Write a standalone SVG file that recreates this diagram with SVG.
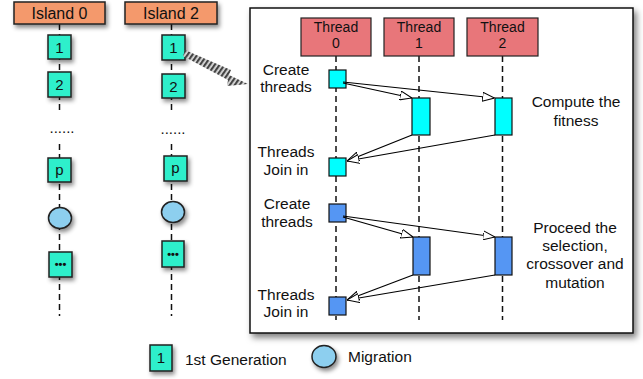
<svg xmlns="http://www.w3.org/2000/svg" width="643" height="379" viewBox="0 0 643 379">
  <defs>
    <filter id="shadow" x="-30%" y="-30%" width="170%" height="170%">
      <feDropShadow dx="2" dy="3" stdDeviation="2" flood-color="#000" flood-opacity="0.45"/>
    </filter>
    <filter id="panelShadow" x="-5%" y="-5%" width="112%" height="112%">
      <feDropShadow dx="3" dy="4" stdDeviation="3" flood-color="#000" flood-opacity="0.5"/>
    </filter>
    <pattern id="hatch" width="4" height="4" patternUnits="userSpaceOnUse" patternTransform="rotate(35)">
      <rect width="4" height="4" fill="#ddd"/>
      <rect width="2.2" height="4" fill="#444"/>
    </pattern>
    <marker id="hollow" viewBox="0 0 12 10" refX="12" refY="5" markerWidth="12" markerHeight="10" markerUnits="userSpaceOnUse" orient="auto">
      <path d="M0,0.5 L12,5 L0,9.5 Z" fill="#fff" stroke="#000" stroke-width="1"/>
    </marker>
    <style>
      .txt { font-family: "Liberation Sans", Arial, sans-serif; fill: #111; }
      .lbl { font-size: 15.5px; text-anchor: middle; }
      .th { font-size: 14px; text-anchor: middle; }
      .hdr { font-size: 16px; text-anchor: middle; }
      .island { fill: #F4996C; stroke: #222; stroke-width: 1.5; }
      .gen { fill: #2EEFCB; stroke: #222; stroke-width: 1.5; }
      .mig { fill: #8DCFEF; stroke: #222; stroke-width: 1.5; }
      .thread { fill: #E8767A; stroke: #222; stroke-width: 1.2; }
      .cyan { fill: #00FFFF; stroke: #111; stroke-width: 1.2; }
      .blue { fill: #5596F3; stroke: #111; stroke-width: 1.2; }
      .life { stroke: #111; stroke-width: 1.5; stroke-dasharray: 6 4; fill: none; }
      .msg { stroke: #000; stroke-width: 1.2; fill: none; marker-end: url(#hollow); }
      .num { font-size: 15px; text-anchor: middle; }
      .more { font-size: 11px; text-anchor: middle; font-weight: bold; }
      .ellip { font-size: 15px; text-anchor: middle; }
    </style>
  </defs>

  <rect width="643" height="379" fill="#fff"/>

  <!-- island timelines -->
  <g id="island-lines">
    <line class="life" x1="59.5" y1="24" x2="59.5" y2="316"/>
    <line class="life" x1="171.5" y1="24" x2="171.5" y2="316"/>
  </g>

  <g id="island0">
    <rect class="island" x="14" y="2" width="91" height="22" filter="url(#shadow)"/>
    <text class="txt hdr" x="59.5" y="19">Island 0</text>
  </g>
  <g id="island2">
    <rect class="island" x="125" y="2" width="92" height="22" filter="url(#shadow)"/>
    <text class="txt hdr" x="171" y="19">Island 2</text>
  </g>

  <!-- island 0 column -->
  <g id="i0-gen1">
    <rect class="gen" x="48" y="35" width="23" height="24" filter="url(#shadow)"/>
    <text class="txt num" x="59.5" y="53">1</text>
  </g>
  <g id="i0-gen2">
    <rect class="gen" x="48" y="72" width="23" height="25" filter="url(#shadow)"/>
    <text class="txt num" x="59.5" y="90">2</text>
  </g>
  <rect x="47" y="113" width="30" height="28" fill="#fff"/>
  <text class="txt ellip" x="62" y="133">......</text>
  <g id="i0-genp">
    <rect class="gen" x="48" y="158" width="23" height="24" filter="url(#shadow)"/>
    <text class="txt num" x="59.5" y="175">p</text>
  </g>
  <g id="i0-mig">
    <ellipse class="mig" cx="60" cy="218" rx="11.5" ry="10.5" filter="url(#shadow)"/>
  </g>
  <g id="i0-genx">
    <rect class="gen" x="49" y="252" width="23" height="25" filter="url(#shadow)"/>
    <text class="txt more" x="60.5" y="268">•••</text>
  </g>

  <!-- island 2 column -->
  <g id="i2-gen1">
    <rect class="gen" x="162" y="35" width="23" height="25" filter="url(#shadow)"/>
    <text class="txt num" x="173.5" y="53">1</text>
  </g>
  <g id="i2-gen2">
    <rect class="gen" x="162" y="74" width="23" height="24" filter="url(#shadow)"/>
    <text class="txt num" x="173.5" y="92">2</text>
  </g>
  <rect x="158" y="114" width="30" height="28" fill="#fff"/>
  <text class="txt ellip" x="173" y="134">......</text>
  <g id="i2-genp">
    <rect class="gen" x="164" y="156" width="23" height="25" filter="url(#shadow)"/>
    <text class="txt num" x="175.5" y="173">p</text>
  </g>
  <g id="i2-mig">
    <ellipse class="mig" cx="173" cy="212" rx="11.5" ry="10.5" filter="url(#shadow)"/>
  </g>
  <g id="i2-genx">
    <rect class="gen" x="162" y="241" width="22" height="26" filter="url(#shadow)"/>
    <text class="txt more" x="173" y="257.5">•••</text>
  </g>

  <!-- zoom-in arrow from island 2, generation 1 -->
  <g id="zoom-arrow">
    <polygon points="185,50 231,70 229,75 248,84 227,86 228,80 183,56" fill="url(#hatch)"/>
  </g>

  <!-- detail panel -->
  <g id="panel">
    <rect x="250" y="8" width="383" height="325" fill="#fff" stroke="#111" stroke-width="1.5" filter="url(#panelShadow)"/>
  </g>

  <g id="lifelines">
    <line class="life" x1="336" y1="56" x2="336" y2="320"/>
    <line class="life" x1="419" y1="56" x2="419" y2="320"/>
    <line class="life" x1="502.5" y1="56" x2="502.5" y2="320"/>
  </g>

  <g id="thread0">
    <rect class="thread" x="301" y="18" width="70" height="38"/>
    <text class="txt th" x="336" y="32">Thread</text>
    <text class="txt th" x="336" y="48">0</text>
  </g>
  <g id="thread1">
    <rect class="thread" x="384" y="18" width="70" height="38"/>
    <text class="txt th" x="419" y="32">Thread</text>
    <text class="txt th" x="419" y="48">1</text>
  </g>
  <g id="thread2">
    <rect class="thread" x="467" y="18" width="71" height="38"/>
    <text class="txt th" x="502.5" y="32">Thread</text>
    <text class="txt th" x="502.5" y="48">2</text>
  </g>

  <!-- fitness phase -->
  <g id="create1">
    <rect class="cyan" x="329" y="70" width="17" height="18"/>
  </g>
  <g id="fit1">
    <rect class="cyan" x="412" y="98" width="18" height="37"/>
  </g>
  <g id="fit2">
    <rect class="cyan" x="495" y="98" width="17" height="37"/>
  </g>
  <g id="join1">
    <rect class="cyan" x="329" y="158" width="17" height="18"/>
  </g>

  <!-- genetic operator phase -->
  <g id="create2">
    <rect class="blue" x="329" y="204" width="17" height="18"/>
  </g>
  <g id="ops1">
    <rect class="blue" x="413" y="237" width="17" height="38"/>
  </g>
  <g id="ops2">
    <rect class="blue" x="495" y="237" width="17" height="38"/>
  </g>
  <g id="join2">
    <rect class="blue" x="329" y="297" width="17" height="18"/>
  </g>

  <g id="connectors">
    <line class="msg" x1="343" y1="83" x2="412" y2="98"/>
    <line class="msg" x1="343" y1="82" x2="494.5" y2="98"/>
    <line class="msg" x1="412" y1="135" x2="347" y2="161"/>
    <line class="msg" x1="495" y1="135" x2="347" y2="161"/>
    <line class="msg" x1="343" y1="217" x2="413" y2="237"/>
    <line class="msg" x1="343" y1="216" x2="495" y2="237"/>
    <line class="msg" x1="413" y1="275" x2="347" y2="300"/>
    <line class="msg" x1="495" y1="275" x2="347" y2="300"/>
  </g>

  <!-- phase labels -->
  <g id="labels">
    <text class="txt lbl" x="286" y="75">Create</text>
    <text class="txt lbl" x="286" y="92">threads</text>
    <text class="txt lbl" x="286" y="157">Threads</text>
    <text class="txt lbl" x="286" y="175">Join in</text>
    <text class="txt lbl" x="576" y="107">Compute the</text>
    <text class="txt lbl" x="576" y="126">fitness</text>
    <text class="txt lbl" x="287" y="209">Create</text>
    <text class="txt lbl" x="287" y="227">threads</text>
    <text class="txt lbl" x="286" y="300">Threads</text>
    <text class="txt lbl" x="286" y="317">Join in</text>
    <text class="txt lbl" x="575" y="233">Proceed the</text>
    <text class="txt lbl" x="575" y="251">selection,</text>
    <text class="txt lbl" x="575" y="269">crossover and</text>
    <text class="txt lbl" x="575" y="288">mutation</text>
  </g>

  <!-- legend -->
  <g id="legend">
    <rect class="gen" x="150" y="345" width="22" height="26" filter="url(#shadow)"/>
    <text class="txt num" x="161" y="363">1</text>
    <text class="txt" x="185" y="365" font-size="15.5">1st Generation</text>
    <ellipse class="mig" cx="324" cy="356.5" rx="12" ry="11" filter="url(#shadow)"/>
    <text class="txt" x="348" y="362" font-size="15.5">Migration</text>
  </g>
</svg>
